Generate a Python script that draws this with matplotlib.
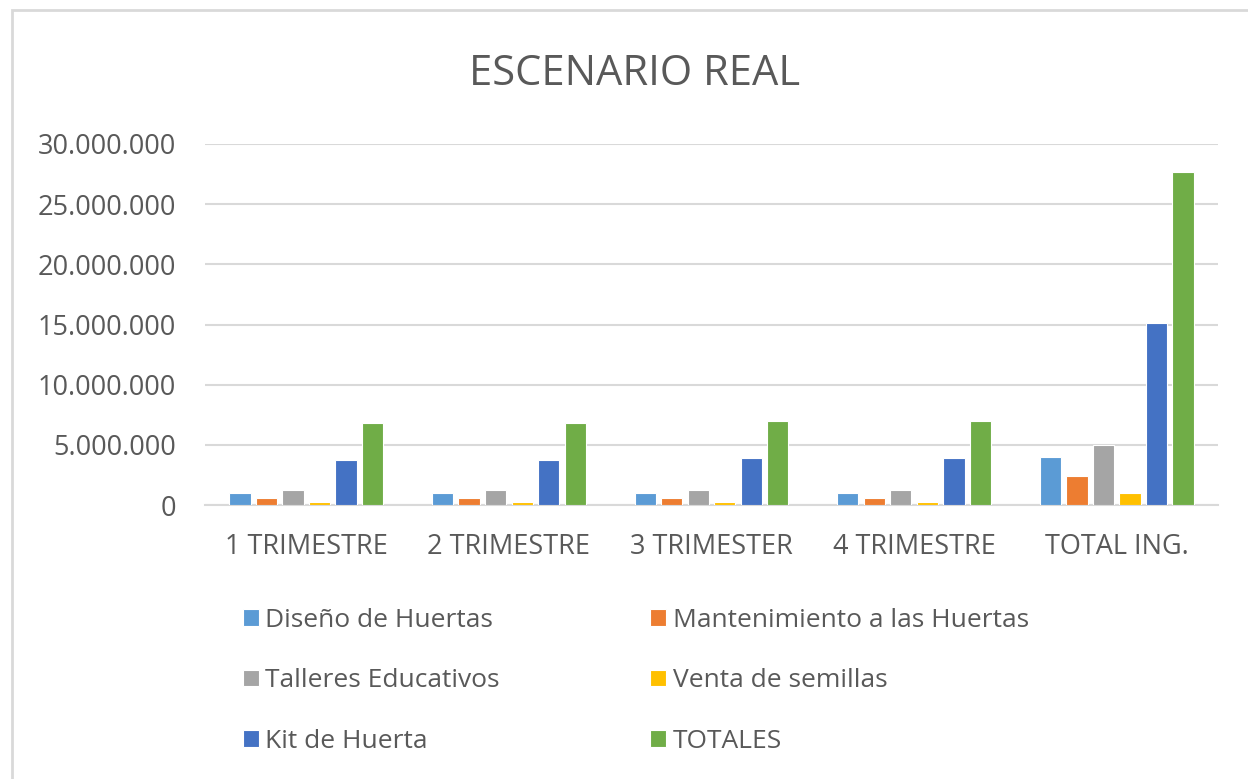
import matplotlib.pyplot as plt
import numpy as np
from matplotlib.patches import Rectangle
from matplotlib.ticker import FuncFormatter

categories = ["1 TRIMESTRE", "2 TRIMESTRE", "3 TRIMESTER", "4 TRIMESTRE", "TOTAL ING."]
series_names = ["Diseño de Huertas", "Mantenimiento a las Huertas", "Talleres Educativos",
                "Venta de semillas", "Kit de Huerta", "TOTALES"]
diseno = [1000000, 1000000, 1000000, 1000000, 4000000]
mantenimiento = [600000, 600000, 600000, 600000, 2400000]
talleres = [1250000, 1250000, 1250000, 1250000, 5000000]
semillas = [250000, 250000, 250000, 250000, 1000000]
kit = [3700000, 3700000, 3880000, 3880000, 15160000]
totales = [6850000, 6850000, 7000000, 7000000, 27700000]
colors = ["#5B9BD5", "#ED7D31", "#A5A5A5", "#FFC000", "#4472C4", "#70AD47"]

plt.rcParams['font.family'] = ['Open Sans', 'DejaVu Sans']
text_color = "#595959"

fig = plt.figure(figsize=(12.48, 7.79), dpi=100)
ax = fig.add_axes([205 / 1248, 1 - 505 / 779, (1218 - 205) / 1248, (505 - 144) / 779])

# chart border
fig.patches.append(Rectangle((12 / 1248, -0.1), 1.2, 1.1 - 10 / 779, transform=fig.transFigure,
                             fill=False, edgecolor="#D9D9D9", linewidth=2))

x = np.arange(len(categories))
step = 0.131
width = 0.105
all_series = [diseno, mantenimiento, talleres, semillas, kit, totales]
for i, (vals, name, c) in enumerate(zip(all_series, series_names, colors)):
    ax.bar(x + (i - 2.5) * step, vals, width, color=c, label=name,
           edgecolor="white", linewidth=0.8, zorder=3)

ax.set_xlim(-0.5, 4.5)
ax.set_ylim(0, 30000000)
ax.set_yticks(np.arange(0, 30000001, 5000000))
ax.yaxis.set_major_formatter(FuncFormatter(lambda v, p: f"{int(v):,}".replace(",", ".")))
ax.grid(axis="y", color="#D9D9D9", linewidth=1.5, zorder=0)
for s in ["top", "right", "left"]:
    ax.spines[s].set_visible(False)
ax.spines["bottom"].set_color("#D9D9D9")
ax.spines["bottom"].set_linewidth(1.5)
ax.tick_params(axis="both", length=0, labelsize=19.5, colors=text_color)
ax.tick_params(axis="y", pad=21)
ax.tick_params(axis="x", pad=20)
ax.set_xticks(x)
ax.set_xticklabels(categories)

fig.text(635 / 1248, 1 - 74 / 779, "ESCENARIO REAL", ha="center", va="center",
         fontsize=30, color=text_color)

handles, labels = ax.get_legend_handles_labels()
order = [0, 2, 4, 1, 3, 5]
leg = fig.legend([handles[i] for i in order], [labels[i] for i in order], ncol=2,
                 loc="upper left", bbox_to_anchor=(219 / 1248, 1 - 584 / 779),
                 frameon=False, fontsize=19, labelcolor=text_color,
                 handlelength=0.6, handleheight=0.6, handletextpad=0.25,
                 columnspacing=5.7, labelspacing=1.35)

fig.savefig("out.png", dpi=100, facecolor="white")
